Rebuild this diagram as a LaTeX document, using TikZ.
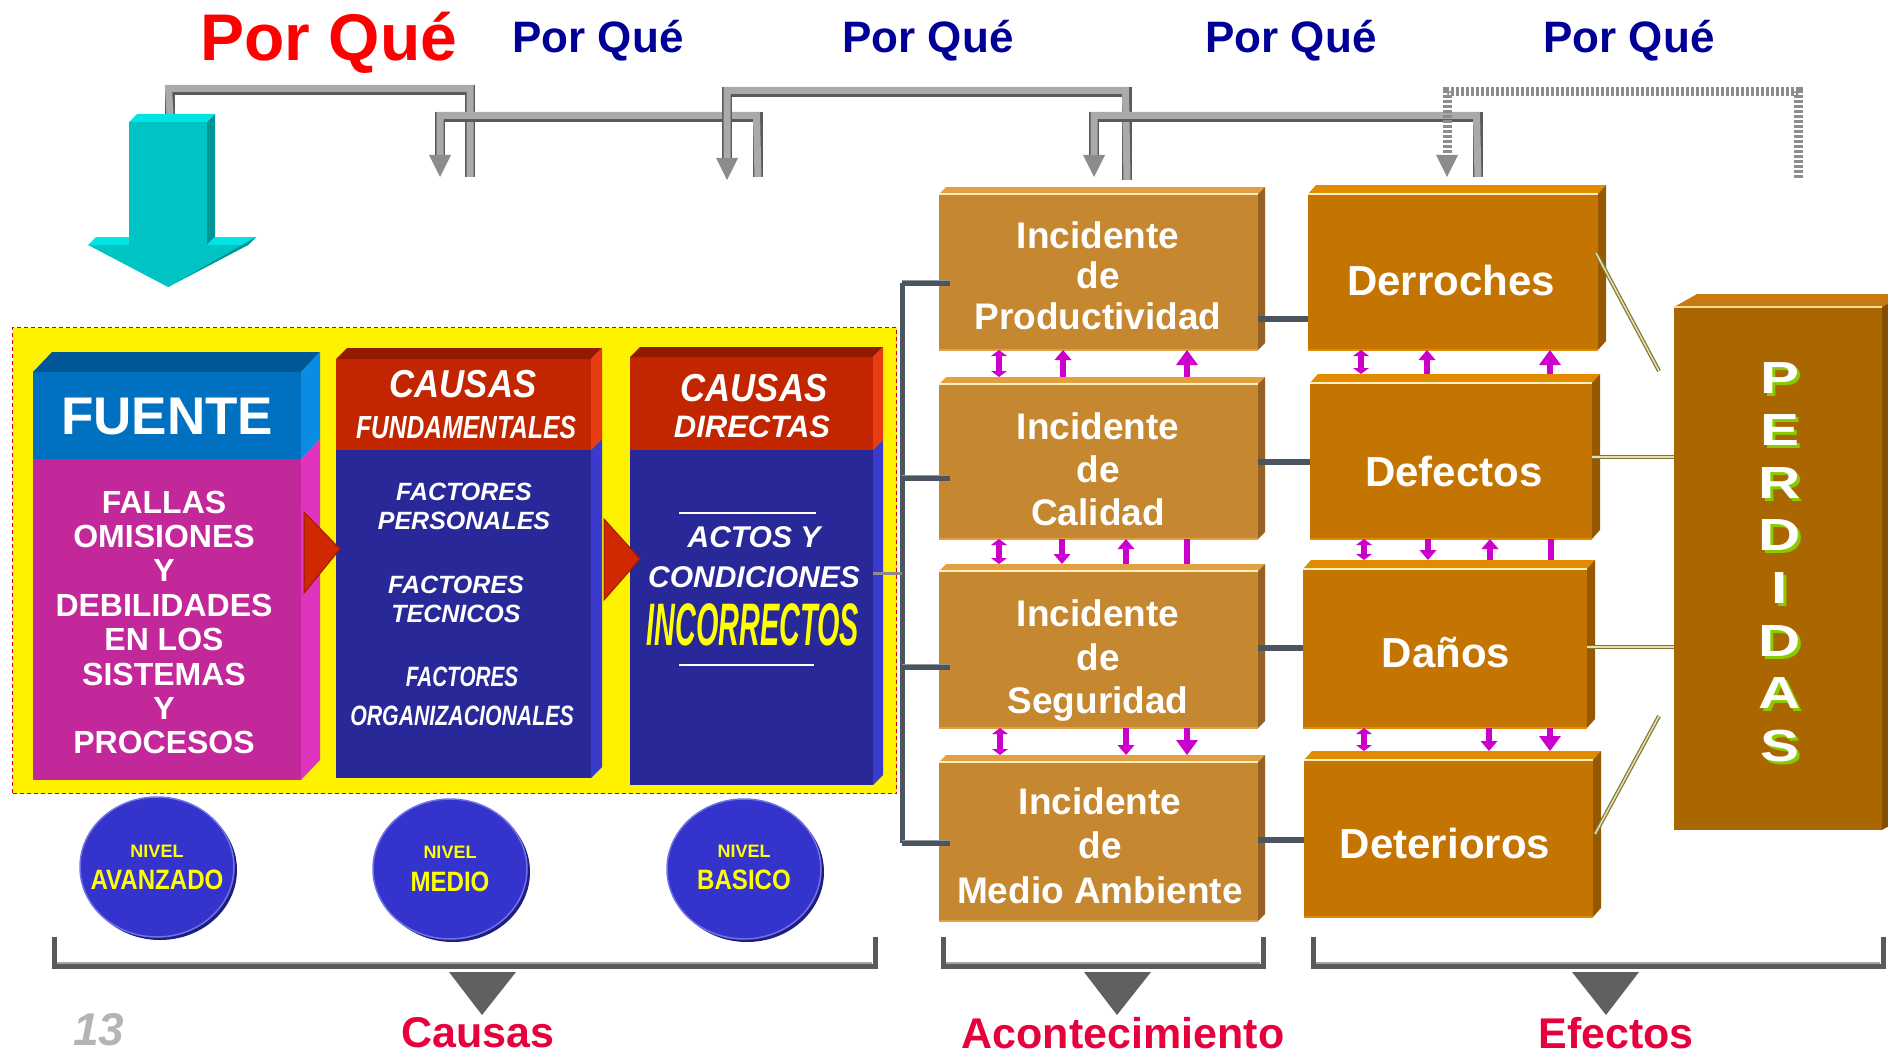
\documentclass[tikz,border=0pt]{standalone}
\usepackage{graphicx}
\usepackage{fontspec}
\setmainfont{Liberation Sans}
\usetikzlibrary{arrows.meta,calc,shapes.geometric}

\definecolor{pqred}{RGB}{255,0,0}
\definecolor{pqblue}{RGB}{0,0,150}
\definecolor{tealF}{RGB}{0,196,196}
\definecolor{tealT}{RGB}{0,228,228}
\definecolor{tealS}{RGB}{0,150,150}
\definecolor{pipeD}{RGB}{90,90,90}
\definecolor{pipeL}{RGB}{170,170,170}
\definecolor{pipeH}{RGB}{140,140,140}
\definecolor{fuenteH}{RGB}{0,112,192}
\definecolor{fuenteHT}{RGB}{0,88,152}
\definecolor{fuenteHS}{RGB}{10,140,228}
\definecolor{fuenteB}{RGB}{195,40,154}
\definecolor{fuenteBS}{RGB}{224,52,190}
\definecolor{causaH}{RGB}{194,38,0}
\definecolor{causaHT}{RGB}{146,26,0}
\definecolor{causaHS}{RGB}{232,60,18}
\definecolor{causaB}{RGB}{40,40,152}
\definecolor{causaBS}{RGB}{58,58,204}
\definecolor{trired}{RGB}{208,40,0}
\definecolor{trieD}{RGB}{160,24,0}
\definecolor{ellF}{RGB}{52,52,204}
\definecolor{ellS}{RGB}{30,30,130}
\definecolor{ellR}{RGB}{114,114,230}
\definecolor{nivY}{RGB}{255,255,0}
\definecolor{incF}{RGB}{197,136,48}
\definecolor{incT}{RGB}{226,160,64}
\definecolor{incS}{RGB}{150,98,36}
\definecolor{effF}{RGB}{196,116,0}
\definecolor{effT}{RGB}{226,138,0}
\definecolor{effS}{RGB}{150,88,0}
\definecolor{perdF}{RGB}{170,102,0}
\definecolor{perdT}{RGB}{200,122,16}
\definecolor{perdS}{RGB}{132,78,0}
\definecolor{perdG}{RGB}{136,204,0}
\definecolor{cream}{RGB}{255,240,190}
\definecolor{slate}{RGB}{74,85,96}
\definecolor{slateL}{RGB}{140,152,166}
\definecolor{olive}{RGB}{128,118,66}
\definecolor{oliveL}{RGB}{232,226,160}
\definecolor{magC}{RGB}{204,0,204}
\definecolor{magL}{RGB}{255,130,255}
\definecolor{brkD}{RGB}{90,90,90}
\definecolor{brkL}{RGB}{165,165,165}
\definecolor{triG}{RGB}{96,96,96}
\definecolor{crim}{RGB}{230,0,60}
\definecolor{numG}{RGB}{180,180,180}

\newcommand{\fsz}[2]{\fontsize{#1}{#2}\selectfont}
\newcommand{\hsc}[2]{\scalebox{#1}[1]{#2}}
\newcommand{\pl}[1]{\scalebox{1.3}[1]{#1}}
\newcommand{\topface}[4]{\fill[#4] (#1.north west) -- ++(#2,-#3) -- ($(#1.north east)+(#2,-#3)$) -- (#1.north east) -- cycle;}
\newcommand{\sideface}[4]{\fill[#4] (#1.north east) -- ++(#2,-#3) -- ($(#1.south east)+(#2,-#3)$) -- (#1.south east) -- cycle;}

\begin{document}
\begin{tikzpicture}[x=1pt,y=-1pt,
  box/.style={rectangle, inner sep=0pt, outer sep=0pt, draw=none},
  pq/.style={font=\fsz{44}{44}\bfseries, text=pqblue, anchor=base, inner sep=0pt},
  wt/.style={text=white, align=center, inner sep=0pt},
  yt/.style={text=nivY, align=center, inner sep=0pt},
  pipedark/.style={draw=pipeD, line width=10pt},
  pipelight/.style={draw=pipeL, line width=7pt},
  pipetip/.style={-{Triangle[length=22pt,width=22pt,line width=0pt,fill=pipeH]}},
  slateline/.style={draw=slate, line width=6pt},
  oliveline/.style={draw=olive, line width=4pt},
  olivelight/.style={draw=oliveL, line width=1.5pt},
  magline/.style={draw=magC, line width=6pt},
  mtip/.style={-{Triangle[length=10pt,width=17pt,line width=0pt]}},
  mtipbig/.style={-{Triangle[length=15pt,width=22pt,line width=0pt]}},
  mdbl/.style={>={Triangle[length=6pt,width=16pt,line width=0pt]}, <->},
  brk/.style={draw=brkD, line width=5pt},
  lbl/.style={text=crim, font=\fsz{43}{43}\bfseries, inner sep=0pt}
]
\useasboundingbox (0,0) rectangle (1888,1054);
\clip (0,0) rectangle (1888,1054);

% ---------------- titles
\node[font=\fsz{66}{66}\bfseries, text=pqred, anchor=base, inner sep=0pt] (pq0) at (329,61) {Por Qué};
\node[pq] (pq1) at (598,53) {Por Qué};
\node[pq] (pq2) at (928,53) {Por Qué};
\node[pq] (pq3) at (1291,53) {Por Qué};
\node[pq] (pq4) at (1629,53) {Por Qué};

% ---------------- teal arrow
\fill[tealF] (129,122) -- (207,122) -- (207,245) -- (248,245) -- (168,287) -- (88,245) -- (129,245) -- cycle;
\fill[tealT] (129,122) -- (137,114) -- (215,114) -- (207,122) -- cycle;
\fill[tealS] (207,122) -- (215,114) -- (215,237) -- (207,245) -- cycle;
\fill[tealT] (88,245) -- (96,237) -- (129,237) -- (129,245) -- cycle;
\fill[tealT] (207,245) -- (215,237) -- (256,237) -- (248,245) -- cycle;
\fill[tealS] (248,245) -- (256,237) -- (172,285) -- (168,287) -- cycle;

% ---------------- "por que" pipes
\coordinate (tealtop) at (170,114);
\coordinate (aR) at (470,177);
\draw[pipedark] (tealtop) -- (170,90) -| (aR);
\draw[pipelight, shift={(-1.5,-1.5)}] (tealtop) -- (170,90) -| (aR);

\coordinate (bL) at (440,177);
\coordinate (bR) at (758,177);
\draw[pipedark, pipetip] (bR) -- (758,117) -| (bL);
\draw[pipelight, shift={(-1.5,-1.5)}, shorten >=22pt] (bR) -- (758,117) -| (bL);

\coordinate (cL) at (727,180);
\coordinate (cR) at (1127,180);
\draw[pipedark, pipetip] (cR) -- (1127,92) -| (cL);
\draw[pipelight, shift={(-1.5,-1.5)}, shorten >=22pt] (cR) -- (1127,92) -| (cL);

\coordinate (dL) at (1094,177);
\coordinate (dR) at (1478,177);
\draw[pipedark, pipetip] (dR) -- (1478,117) -| (dL);
\draw[pipelight, shift={(-1.5,-1.5)}, shorten >=22pt] (dR) -- (1478,117) -| (dL);

\coordinate (eL) at (1447,177);
\coordinate (eR) at (1798,178);
\draw[draw=pipeH, line width=9pt, dash pattern=on 3pt off 2pt, pipetip] (eR) -- (1798,92) -| (eL);

% ---------------- causes panel
\node[box, fill=yellow, draw=red!85!black, line width=1.5pt, dash pattern=on 4pt off 3pt,
      minimum width=884pt, minimum height=466pt] (cbox) at (454.5,560.5) {};

% column FUENTE
\node[box, fill=fuenteH, minimum width=268pt, minimum height=87pt] (fh) at (167,415.5) {};
\node[box, fill=fuenteB, minimum width=268pt, minimum height=321pt] (fb) at (167,619.5) {};
\topface{fh}{19}{20}{fuenteHT}
\sideface{fh}{19}{20}{fuenteHS}
\sideface{fb}{19}{20}{fuenteBS}
\node[wt, font=\fsz{53}{53}\bfseries] (fht) at (167,417) {FUENTE};
\node[wt, font=\fsz{32}{34.4}\bfseries] (fbt) at (164,622.5) {FALLAS\\OMISIONES\\Y\\DEBILIDADES\\EN LOS\\SISTEMAS\\Y\\PROCESOS};

% column CAUSAS FUNDAMENTALES
\node[box, fill=causaH, minimum width=255pt, minimum height=91pt] (ch2) at (463.5,404.5) {};
\node[box, fill=causaB, minimum width=255pt, minimum height=328pt] (cb2) at (463.5,614) {};
\topface{ch2}{11}{11}{causaHT}
\sideface{ch2}{11}{11}{causaHS}
\sideface{cb2}{11}{11}{causaBS}
\node[wt, font=\fsz{39}{39}\bfseries\itshape] (ch2a) at (463,384) {\hsc{0.89}{CAUSAS}};
\node[wt, font=\fsz{32}{32}\bfseries\itshape] (ch2b) at (466,427) {\hsc{0.77}{FUNDAMENTALES}};
\node[wt, font=\fsz{25}{29}\bfseries\itshape] (cb2a) at (464,506.5) {FACTORES\\PERSONALES};
\node[wt, font=\fsz{25}{29}\bfseries\itshape] (cb2b) at (456,599.5) {FACTORES\\TECNICOS};
\node[wt, font=\fsz{28}{39}\bfseries\itshape] (cb2c) at (462,696.5) {\hsc{0.74}{FACTORES}\\\hsc{0.76}{ORGANIZACIONALES}};

% column CAUSAS DIRECTAS
\node[box, fill=causaH, minimum width=243pt, minimum height=93pt] (ch3) at (751.5,403.5) {};
\node[box, fill=causaB, minimum width=243pt, minimum height=335pt] (cb3) at (751.5,617.5) {};
\topface{ch3}{10}{10}{causaHT}
\sideface{ch3}{10}{10}{causaHS}
\sideface{cb3}{10}{10}{causaBS}
\node[wt, font=\fsz{39}{39}\bfseries\itshape] (ch3a) at (754,388) {\hsc{0.89}{CAUSAS}};
\node[wt, font=\fsz{31}{31}\bfseries\itshape] (ch3b) at (752,427) {DIRECTAS};
\draw[white, line width=2pt] (679,513) -- (816,513);
\draw[white, line width=2pt] (679,665) -- (814,665);
\node[wt, font=\fsz{30}{40}\bfseries\itshape] (cb3a) at (754,557) {ACTOS Y\\CONDICIONES};
\node[yt, font=\fsz{60}{60}\bfseries\itshape] (cb3b) at (753,625) {\hsc{0.48}{INCORRECTOS}};

% red triangles between columns
\filldraw[fill=trired, draw=trieD, line width=1pt] (304,512) -- (340,549) -- (304,593) -- cycle;
\filldraw[fill=trired, draw=trieD, line width=1pt] (604,519) -- (640,559) -- (604,600) -- cycle;

% level ellipses
\fill[ellS] (160,870) ellipse [x radius=77pt, y radius=70pt];
\fill[ellS] (453,872) ellipse [x radius=77pt, y radius=70pt];
\fill[ellS] (747,872) ellipse [x radius=77pt, y radius=70pt];
\node[box, ellipse, fill=ellF, draw=ellR, line width=1.5pt, minimum width=154pt, minimum height=140pt] (lv1) at (157,867) {};
\node[box, ellipse, fill=ellF, draw=ellR, line width=1.5pt, minimum width=154pt, minimum height=140pt] (lv2) at (450,869) {};
\node[box, ellipse, fill=ellF, draw=ellR, line width=1.5pt, minimum width=154pt, minimum height=140pt] (lv3) at (744,869) {};
\node[yt, font=\fsz{18}{18}\bfseries] (lv1a) at (157,851) {NIVEL};
\node[yt, font=\fsz{28}{28}\bfseries] (lv1b) at (157,880) {\hsc{0.86}{AVANZADO}};
\node[yt, font=\fsz{18}{18}\bfseries] (lv2a) at (450,852) {NIVEL};
\node[yt, font=\fsz{28}{28}\bfseries] (lv2b) at (450,882) {\hsc{0.86}{MEDIO}};
\node[yt, font=\fsz{18}{18}\bfseries] (lv3a) at (744,851) {NIVEL};
\node[yt, font=\fsz{28}{28}\bfseries] (lv3b) at (744,880) {\hsc{0.86}{BASICO}};

% ---------------- incident boxes
\node[box, fill=incF, minimum width=319pt, minimum height=156pt] (inc1) at (1098.5,272) {};
\node[box, fill=incF, minimum width=319pt, minimum height=155pt] (inc2) at (1098.5,461.5) {};
\node[box, fill=incF, minimum width=319pt, minimum height=157pt] (inc3) at (1098.5,649.5) {};
\node[box, fill=incF, minimum width=319pt, minimum height=159pt] (inc4) at (1098.5,841.5) {};
\foreach \n in {inc1,inc2,inc3,inc4}{
  \topface{\n}{7}{7}{incT}
  \sideface{\n}{7}{7}{incS}
  \draw[cream, line width=2pt] (\n.north west) -- (\n.north east);
  \draw[incT, line width=2pt] (\n.south west) -- (\n.south east);
}
\node[wt, font=\fsz{37}{40.5}\bfseries] (inc1t) at (1098,275.5) {Incidente\\de\\Productividad};
\node[wt, font=\fsz{37}{43}\bfseries] (inc2t) at (1098,469) {Incidente\\de\\Calidad};
\node[wt, font=\fsz{37}{43.5}\bfseries] (inc3t) at (1098,661) {Incidente\\de\\Seguridad};
\node[wt, font=\fsz{37}{44.5}\bfseries] (inc4t) at (1100,845.5) {Incidente\\de\\Medio Ambiente};

% ---------------- effect boxes
\node[box, fill=effF, minimum width=290pt, minimum height=156pt] (eff1) at (1453,272) {};
\node[box, fill=effF, minimum width=282pt, minimum height=156pt] (eff2) at (1451,461) {};
\node[box, fill=effF, minimum width=284pt, minimum height=159pt] (eff3) at (1445,648.5) {};
\node[box, fill=effF, minimum width=289pt, minimum height=157pt] (eff4) at (1448.5,838.5) {};
\foreach \n in {eff1,eff2,eff3,eff4}{
  \topface{\n}{8}{9}{effT}
  \sideface{\n}{8}{9}{effS}
  \draw[cream, line width=2pt] (\n.north west) -- (\n.north east);
  \draw[effT, line width=2pt] (\n.south west) -- (\n.south east);
}
\node[wt, font=\fsz{42}{42}\bfseries] (eff1t) at (1451,280) {Derroches};
\node[wt, font=\fsz{42}{42}\bfseries] (eff2t) at (1454,471) {Defectos};
\node[wt, font=\fsz{42}{42}\bfseries] (eff3t) at (1446,653) {Daños};
\node[wt, font=\fsz{42}{42}\bfseries] (eff4t) at (1445,843) {Deterioros};

% ---------------- perdidas
\node[box, fill=perdF, minimum width=208pt, minimum height=523pt] (perd) at (1778,568.5) {};
\topface{perd}{23}{13}{perdT}
\sideface{perd}{23}{13}{perdS}
\draw[cream!80!orange, line width=2pt] (perd.north west) -- (perd.north east);
\node[inner sep=0pt, align=center, text=perdG, font=\fsz{45}{52.6}\bfseries] (perdsh) at (1783,565)
  {\pl{P}\\\pl{E}\\\pl{R}\\\pl{D}\\\pl{I}\\\pl{D}\\\pl{A}\\\pl{S}};
\node[wt, font=\fsz{45}{52.6}\bfseries] (perdt) at (1780,562)
  {\pl{P}\\\pl{E}\\\pl{R}\\\pl{D}\\\pl{I}\\\pl{D}\\\pl{A}\\\pl{S}};

% ---------------- slate connectors
\coordinate (s0) at (902,573);
\coordinate (s1) at (902,283);
\coordinate (s2) at (902,478);
\coordinate (s3) at (902,667);
\coordinate (s4) at (902,843);
\draw[slateline, line width=5pt] (s1) -- (s4);
\draw[draw=pipeH, line width=3pt] (s0 -| cb3.east) -- (s0);
\foreach \s in {s1,s2,s3,s4}{
  \draw[slateline] (\s) -- ++(48,0);
  \draw[slateL, line width=1.5pt] ($(\s)+(0,-2.5)$) -- ++(48,0);
}
\coordinate (h1) at (1280,319);
\coordinate (h2) at (1280,462);
\coordinate (h3) at (1280,648);
\coordinate (h4) at (1280,840);
\draw[slateline] (h1 -| inc1.east) -- (h1 -| eff1.west);
\draw[slateline] (h2 -| inc2.east) -- (h2 -| eff2.west);
\draw[slateline] (h3 -| inc3.east) -- (h3 -| eff3.west);
\draw[slateline] (h4 -| inc4.east) -- (h4 -| eff4.west);

% ---------------- olive links to PERDIDAS
\coordinate (o1a) at (1596,253);
\coordinate (o1b) at (1659,371);
\coordinate (o2) at (1630,457);
\coordinate (o3) at (1630,647);
\coordinate (o4a) at (1659,716);
\coordinate (o4b) at (1595,834);
\draw[oliveline] (o1a) -- (o1b);
\draw[olivelight, shift={(-1.5,-0.8)}] (o1a) -- (o1b);
\draw[oliveline] (o2 -| eff2.east) -- (o2 -| perd.west);
\draw[olivelight, shift={(0,-1.5)}] (o2 -| eff2.east) -- (o2 -| perd.west);
\draw[oliveline] (o3 -| eff3.east) -- (o3 -| perd.west);
\draw[olivelight, shift={(0,-1.5)}] (o3 -| eff3.east) -- (o3 -| perd.west);
\draw[oliveline] (o4a) -- (o4b);
\draw[olivelight, shift={(1.2,-0.8)}] (o4a) -- (o4b);

% ---------------- magenta arrows, row gap 1
\draw[magline, mdbl, shorten >=7pt] ([xshift=60pt]inc1.south west) -- ([xshift=60pt]inc2.north west);
\draw[magline, mtip, shorten <=7pt] ([xshift=124pt]inc2.north west) -- ([xshift=124pt]inc1.south west);
\draw[magline, mtipbig, shorten <=7pt] ([xshift=248pt]inc2.north west) -- ([xshift=248pt]inc1.south west);
\draw[magline, mdbl, shorten >=9pt] ([xshift=53pt]eff1.south west) -- ([xshift=51pt]eff2.north west);
\draw[magline, mtip, shorten <=9pt] ([xshift=117pt]eff2.north west) -- ([xshift=119pt]eff1.south west);
\draw[magline, mtipbig, shorten <=9pt] ([xshift=240pt]eff2.north west) -- ([xshift=242pt]eff1.south west);
% row gap 2
\draw[magline, mdbl, shorten >=7pt] ([xshift=60pt]inc2.south west) -- ([xshift=60pt]inc3.north west);
\draw[magline, mtip, shorten >=7pt] ([xshift=123pt]inc2.south west) -- ([xshift=123pt]inc3.north west);
\draw[magline, mtip, shorten <=7pt] ([xshift=187pt]inc3.north west) -- ([xshift=187pt]inc2.south west);
\draw[magline, shorten >=7pt] ([xshift=248pt]inc2.south west) -- ([xshift=248pt]inc3.north west);
\draw[magline, mdbl, shorten >=9pt] ([xshift=54pt]eff2.south west) -- ([xshift=61pt]eff3.north west);
\draw[magline, mtip, shorten >=9pt] ([xshift=118pt]eff2.south west) -- ([xshift=125pt]eff3.north west);
\draw[magline, mtip, shorten <=9pt] ([xshift=187pt]eff3.north west) -- ([xshift=180pt]eff2.south west);
\draw[magline, shorten >=9pt] ([xshift=241pt]eff2.south west) -- ([xshift=248pt]eff3.north west);
% row gap 3
\draw[magline, mdbl, shorten >=7pt] ([xshift=61pt]inc3.south west) -- ([xshift=61pt]inc4.north west);
\draw[magline, mtip, shorten >=7pt] ([xshift=187pt]inc3.south west) -- ([xshift=187pt]inc4.north west);
\draw[magline, mtipbig, shorten >=7pt] ([xshift=248pt]inc3.south west) -- ([xshift=248pt]inc4.north west);
\draw[magline, mdbl, shorten >=9pt] ([xshift=61pt]eff3.south west) -- ([xshift=60pt]eff4.north west);
\draw[magline, mtip, shorten >=9pt] ([xshift=186pt]eff3.south west) -- ([xshift=185pt]eff4.north west);
\draw[magline, mtipbig, shorten >=9pt] ([xshift=247pt]eff3.south west) -- ([xshift=246pt]eff4.north west);

% ---------------- bottom brackets, pointers and labels
\draw[brk] (54,937) -- (54,966) -- (875,966) -- (875,937);
\draw[brk] (943,937) -- (943,966) -- (1263,966) -- (1263,937);
\draw[brk] (1313,937) -- (1313,966) -- (1883,966) -- (1883,937);
\draw[brkL, line width=2pt] (57,963) -- (872,963);
\draw[brkL, line width=2pt] (946,963) -- (1260,963);
\draw[brkL, line width=2pt] (1316,963) -- (1880,963);
\node[lbl] (lcau) at (478,1033) {Causas};
\node[lbl] (lacon) at (1123,1033) {Acontecimiento};
\node[lbl] (lefe) at (1616,1033) {Efectos};
\fill[triG] (449,972) -- (516,972) -- (482,1015) -- cycle;
\fill[triG] (1084,972) -- (1151,972) -- (1117,1015) -- cycle;
\fill[triG] (1572,972) -- (1639,972) -- (1606,1015) -- cycle;
\node[inner sep=1pt, text=numG, font=\fsz{46}{46}\bfseries\itshape] (pnum) at (99,1030) {13};
\end{tikzpicture}
\end{document}
